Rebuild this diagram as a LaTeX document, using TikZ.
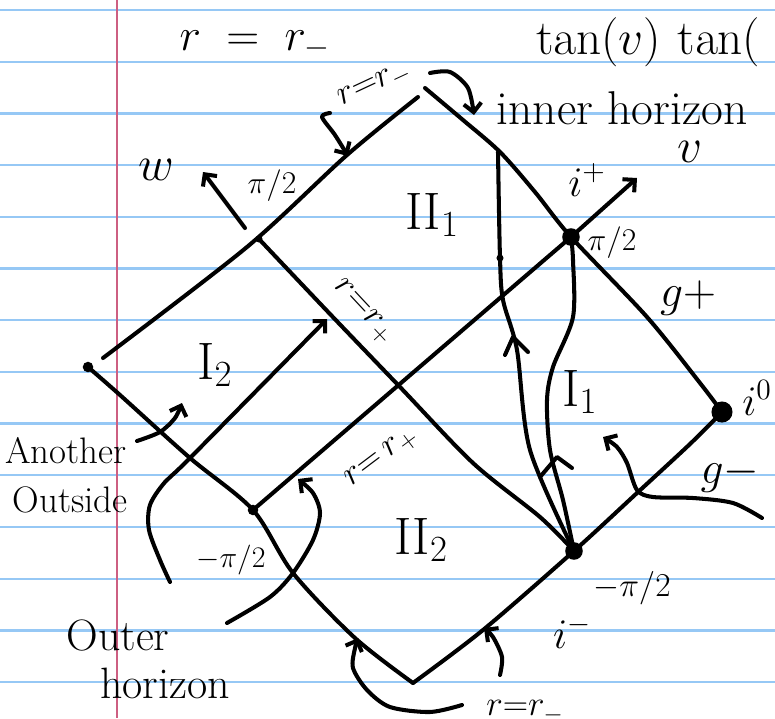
\RequirePackage{fix-cm}
\documentclass[tikz,border=0pt]{standalone}
\usepackage{amsmath}
\usepackage{amssymb}
\usepackage{tikz}
\usetikzlibrary{arrows.meta}
\definecolor{rule}{RGB}{150,200,245}
\definecolor{margin}{RGB}{205,95,130}

\begin{document}
\begin{tikzpicture}[
  x=0.02cm,y=-0.02cm,
  pen/.style={line width=2.3pt,line cap=round,line join=round},
  tip/.style={pen,-{Straight Barb[length=5pt,width=10pt]}},
  hand/.style={inner sep=0pt,font=\fontsize{#1}{#1}\selectfont},
  hand/.default=24,
  dot/.style={circle,fill,inner sep=0pt,minimum size=#1},
  dot/.default=8pt]
\useasboundingbox (0,0) rectangle (775,718);
\clip (0,0) rectangle (775,718);
% lined paper
\foreach \k in {0,...,13}
  \draw[rule,line width=1.3pt] (0,10+51.7*\k) -- (775,10+51.7*\k);
\draw[margin,line width=1.2pt] (117,0) -- (117,718);
% corners and crossings
\coordinate (L) at (88,367);
\coordinate (T1) at (418,97);
\coordinate (T2) at (425,88);
\coordinate (ip) at (571,237);
\coordinate (i0) at (722,412);
\coordinate (im) at (574,551);
\coordinate (B) at (413,683);
\coordinate (mL) at (253,510);
\coordinate (mT) at (259,239);
% outer edges
\draw[pen] plot[smooth] coordinates {(103,358) (247,247) (347,155) (T1)};
\draw[pen] plot[smooth] coordinates {(T2) (463,120) (500,152) (535,192) (ip) (647,317) (700,383) (i0)};
\draw[pen] plot[smooth] coordinates {(i0) (690,444) (637,493) (im) (483,630) (B)};
\draw[pen] plot[smooth] coordinates {(L) (120,395) (190,458) (mL) (293,573) (355,638) (B)};
% horizons
\draw[pen] plot[smooth] coordinates {(mT) (330,314) (400,387) (473,463) (540,517) (im)};
\draw[pen] (mL) -- (ip);
% worldlines
\draw[pen] plot[smooth] coordinates {(im) (530,450) (517,350) (503,300) (500,258) (498,152)};
\draw[pen] plot[smooth] coordinates {(im) (563,500) (550,450) (547,400) (553,367) (573,317) (573,260) (ip)};
\draw[pen] (505,355) -- (513,337) -- (528,352);
\draw[pen] (540,477) -- (557,457) -- (572,468);
% dots
\node[dot=10pt] (dip) at (ip) {};
\node[dot=12pt] (di0) at (i0) {};
\node[dot=10pt] (dim) at (im) {};
\node[dot=6pt] (dmL) at (mL) {};
\node[dot=6pt] (dL) at (L) {};
\node[dot=4pt] (dmT) at (mT) {};
\node[dot=4pt] (dw) at (500,258) {};
% axes
\draw[tip] (245,228) -- (203,172);
\draw[tip] (ip) -- (637,178);
% pointers
\draw[tip] plot[smooth] coordinates {(330,113) (322,117) (335,135) (348,156)};
\draw[tip] plot[smooth] coordinates {(430,73) (450,72) (468,88) (474,115)};
\draw[tip] plot[smooth] coordinates {(137,441) (160,432) (175,418) (182,403)};
\draw[tip] plot[smooth] coordinates {(170,582) (160,560) (149,530) (150,505) (165,482) (190,458) (327,319)};
\draw[tip] plot[smooth] coordinates {(227,623) (270,597) (293,573) (313,540) (320,513) (313,493) (298,479)};
\draw[tip] plot[smooth] coordinates {(762,518) (733,503) (693,498) (653,497) (637,490) (627,463) (617,447) (603,437)};
\draw[tip] plot[smooth] coordinates {(462,705) (430,712) (390,707) (367,690) (353,668) (355,648) (358,638)};
\draw[tip] plot[smooth] coordinates {(500,675) (502,657) (493,637) (484,628)};
% labels
\node[hand=26] (rr) at (255,45) {$r \;=\; r_-$};
\node[hand=28,anchor=west] (tan) at (536,42) {$\tan(v)\,\tan($};
\node[hand=20,rotate=25] (rtop) at (375,86) {$r{=}r_-$};
\node[hand=27] (inner) at (622,108) {inner horizon};
\node[hand=28] (v) at (690,152) {$v$};
\node[hand=28] (w) at (156,170) {$w$};
\node[hand=18] (pa) at (272,186) {$\pi/2$};
\node[hand=24] (ipl) at (587,180) {$i^+$};
\node[hand=18] (pb) at (612,243) {$\pi/2$};
\node[hand=30] (II1) at (432,215) {II$_1$};
\node[hand=26] (gp) at (688,298) {$g{+}$};
\node[hand=20,rotate=-47] (rp1) at (363,312) {$r{=}r_+$};
\node[hand=30] (I2) at (215,365) {I$_2$};
\node[hand=30] (I1) at (580,392) {I$_1$};
\node[hand=24] (i0l) at (757,398) {$i^0$};
\node[hand=26] (gm) at (730,475) {$g{-}$};
\node[hand=20,rotate=37] (rp2) at (382,458) {$r{=}\,r_+$};
\node[hand=21] (another) at (66,451) {Another};
\node[hand=21] (outside) at (70,500) {Outside};
\node[hand=30] (II2) at (421,540) {II$_2$};
\node[hand=17] (ma) at (231,560) {$-\pi/2$};
\node[hand=19] (mb) at (632,588) {$-\pi/2$};
\node[hand=24] (imin) at (572,632) {$i^-$};
\node[hand=25] (outer) at (118,635) {Outer};
\node[hand=25] (horizon) at (165,683) {horizon};
\node[hand=20] (rbot) at (525,712) {$r{=}r_-$};
\end{tikzpicture}
\end{document}
